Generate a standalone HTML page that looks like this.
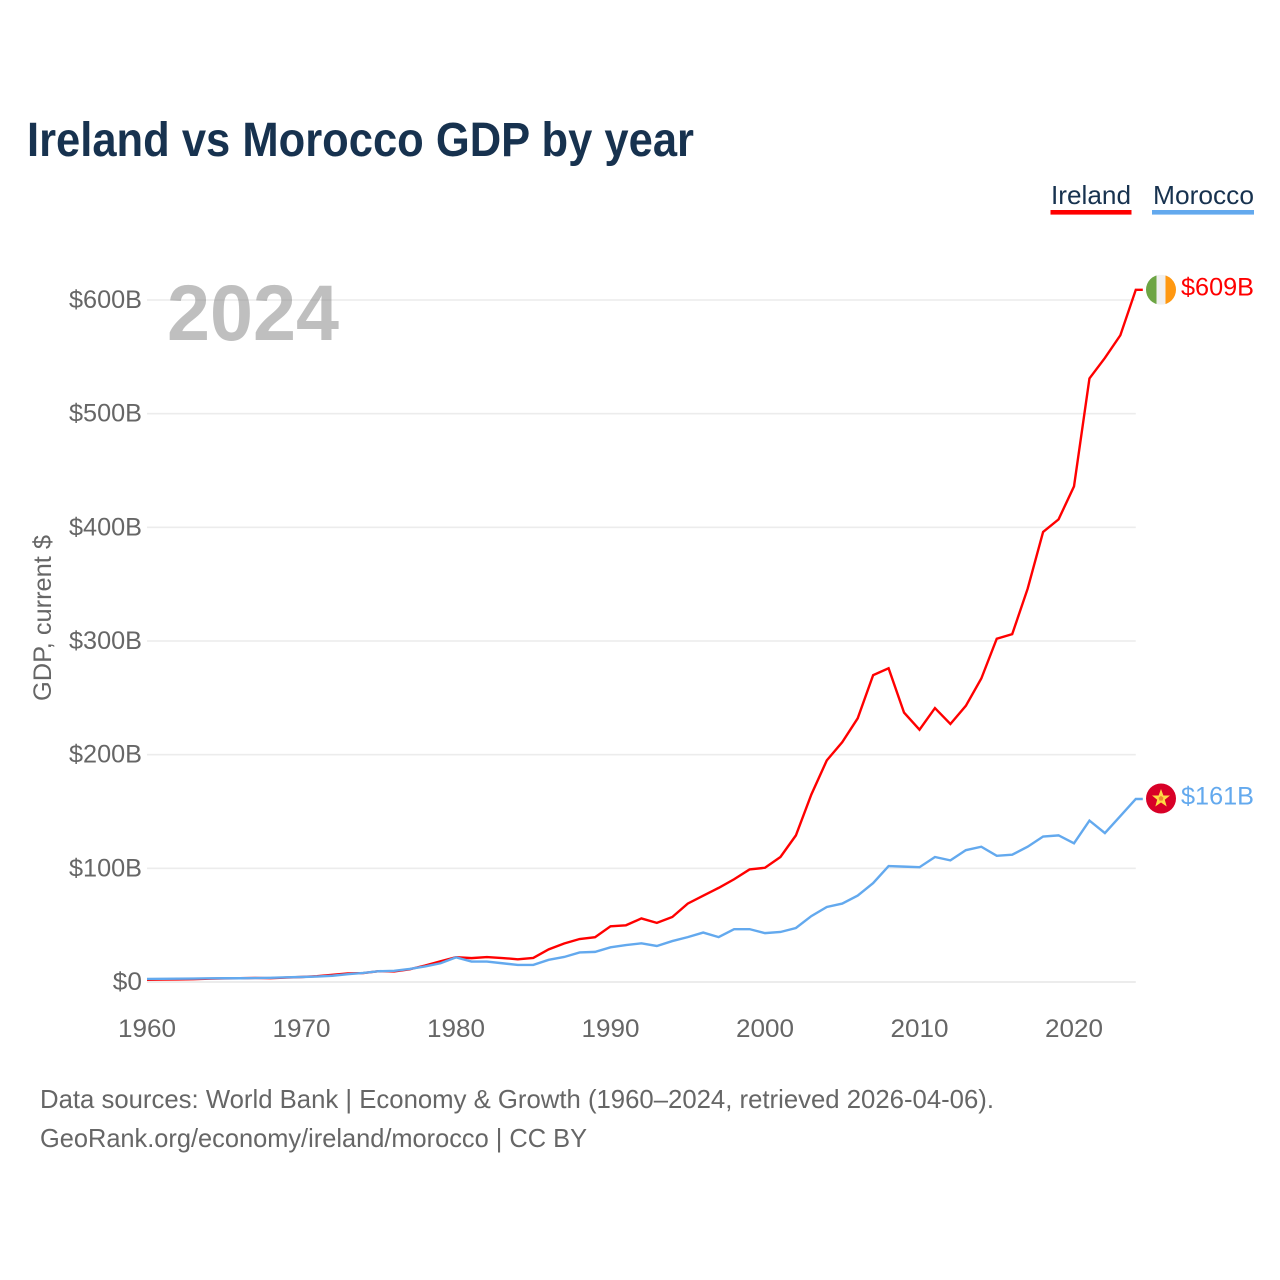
<!DOCTYPE html>
<html lang="en">
<head>
<meta charset="utf-8">
<title>Ireland vs Morocco GDP by year</title>
<style>
  html, body { margin: 0; padding: 0; background: #fff; }
  svg { display: block; }
  text { font-family: "Liberation Sans", sans-serif; }
</style>
</head>
<body>
<svg id="chart" xmlns="http://www.w3.org/2000/svg" width="1280" height="1280" viewBox="0 0 1280 1280">
  <defs>
    <clipPath id="flag-clip-ie"><circle cx="0" cy="0" r="15"></circle></clipPath>
  </defs>
  <rect x="0" y="0" width="1280" height="1280" fill="#ffffff"></rect>
  <text x="27" y="156" font-size="48" font-weight="700" fill="#17324f" textLength="667" lengthAdjust="spacingAndGlyphs">Ireland vs Morocco GDP by year</text>

  <g>
    <g>
      <text x="1051" y="204" font-size="26" fill="#17324f" textLength="80" lengthAdjust="spacingAndGlyphs">Ireland</text>
      <rect x="1050.5" y="210" width="81" height="4.6" fill="#ff0000"></rect>
    </g>
    <g>
      <text x="1153" y="204" font-size="26" fill="#17324f" textLength="101" lengthAdjust="spacingAndGlyphs">Morocco</text>
      <rect x="1152" y="210" width="102" height="4.6" fill="#63a9ee"></rect>
    </g>
  </g>

  <g id="grid"></g>
  <g id="y-ticks"></g>
  <g id="x-ticks"></g>

  <text x="167" y="340" font-size="79" font-weight="700" fill="#808080" fill-opacity="0.5" textLength="172" lengthAdjust="spacingAndGlyphs">2024</text>
  <text transform="translate(51 701) rotate(-90)" x="0" y="0" font-size="25" fill="#666666" textLength="166" lengthAdjust="spacingAndGlyphs">GDP, current $</text>

  <g id="series"></g>
  <g id="end-markers"></g>

  <text x="40" y="1108" font-size="26" fill="#666666" textLength="954" lengthAdjust="spacingAndGlyphs">Data sources: World Bank | Economy &amp; Growth (1960–2024, retrieved 2026-04-06).</text>
  <text x="40" y="1147" font-size="26" fill="#666666" textLength="547" lengthAdjust="spacingAndGlyphs">GeoRank.org/economy/ireland/morocco | CC BY</text>
</svg>

<script>
const years = [1960,1961,1962,1963,1964,1965,1966,1967,1968,1969,1970,1971,1972,1973,1974,1975,1976,1977,1978,1979,1980,1981,1982,1983,1984,1985,1986,1987,1988,1989,1990,1991,1992,1993,1994,1995,1996,1997,1998,1999,2000,2001,2002,2003,2004,2005,2006,2007,2008,2009,2010,2011,2012,2013,2014,2015,2016,2017,2018,2019,2020,2021,2022,2023,2024];
const irelandGdp = [1.9,2.1,2.3,2.5,2.9,3.1,3.3,3.6,3.4,3.9,4.4,5.1,6.3,7.5,7.9,9.5,9.3,11.2,14.5,18.2,21.8,21,21.9,21.1,20,21.2,28.7,33.9,37.8,39.4,49,49.9,55.9,52,57.2,69,75.9,82.8,90.4,99,100.5,110,129,165,195,211,232,270,276,237,222,241,227,243,267,302,306,346,396,407,436,531,549,569,609];
const moroccoGdp = [2.7,2.8,2.9,3,3.2,3.3,3.3,3.5,3.7,4.1,4.4,4.8,5.5,6.9,8,9.5,9.8,11.5,13.7,16.5,21.7,18,18,16.5,15,15,19.5,22,26,26.5,30.5,32.5,34,31.7,36,39.5,43.5,39.5,46.5,46.5,43,44,47.5,58,66,69,76,87,102,101.5,101,110,107,116,119,111,112,119,128,129,122,142,131,146,161];
const yTickValues = [0,100,200,300,400,500,600];
const yTickLabels = ["$0","$100B","$200B","$300B","$400B","$500B","$600B"];
const xTickYears = [1960,1970,1980,1990,2000,2010,2020];
const xTickLabels = ["1960","1970","1980","1990","2000","2010","2020"];

const NS = "http://www.w3.org/2000/svg";
function xScale(year) { return 147 + (year - 1960) * 15.45; }
function yScale(value) { return 982 - value * (982 - 300) / 600; }
function make(tag, attrs, parent) {
  const el = document.createElementNS(NS, tag);
  for (const k in attrs) el.setAttribute(k, attrs[k]);
  parent.appendChild(el);
  return el;
}

const gridG = document.getElementById('grid');
const yG = document.getElementById('y-ticks');
const xG = document.getElementById('x-ticks');
const seriesG = document.getElementById('series');
const endG = document.getElementById('end-markers');
const xEnd = xScale(years[years.length - 1]);

yTickValues.forEach(function (v, i) {
  const line = make('line', { x1: 147, x2: xEnd, y1: yScale(v), y2: yScale(v), stroke: '#ececec', 'stroke-width': v === 0 ? 2 : 1.6 }, gridG);
  
  
  const label = make('text', { x: 142, y: yScale(v) + 8, 'text-anchor': 'end', 'font-size': 25, fill: '#666666', textLength: yTickLabels[i].length * 14.6, lengthAdjust: 'spacingAndGlyphs' }, yG);
  
  
  label.textContent = yTickLabels[i];
});

xTickYears.forEach(function (yr, i) {
  const label = make('text', { x: xScale(yr), y: 1037, 'text-anchor': 'middle', 'font-size': 25, fill: '#666666', textLength: 58, lengthAdjust: 'spacingAndGlyphs' }, xG);
  
  
  label.textContent = xTickLabels[i];
});

function drawSeries(values, color, key) {
  const pts = values.map(function (v, i) { return xScale(years[i]).toFixed(2) + ',' + yScale(v).toFixed(2); });
  const lastY = yScale(values[values.length - 1]);
  pts.push((xEnd + 7).toFixed(2) + ',' + lastY.toFixed(2));
  const line = make('polyline', { points: pts.join(' '), fill: 'none', stroke: color, 'stroke-width': 2.4, 'stroke-linejoin': 'miter' }, seriesG);
  
  
}

function drawEndLabel(values, color, key) {
  const v = values[values.length - 1];
  const label = make('text', { x: 1181, y: yScale(v) + 5.5, 'font-size': 25, fill: color, textLength: 73, lengthAdjust: 'spacingAndGlyphs' }, endG);
  
  
  label.textContent = '$' + Math.round(v) + 'B';
}

drawSeries(irelandGdp, '#ff0000', 'ireland');
drawSeries(moroccoGdp, '#63a9ee', 'morocco');
drawEndLabel(irelandGdp, '#ff0000', 'ireland');
drawEndLabel(moroccoGdp, '#63a9ee', 'morocco');

const flagIe = make('g', { transform: 'translate(1161 ' + yScale(irelandGdp[irelandGdp.length - 1]) + ')', 'clip-path': 'url(#flag-clip-ie)' }, endG);


make('rect', { x: -15, y: -15, width: 10.5, height: 30, fill: '#6da544' }, flagIe);
make('rect', { x: -4.5, y: -15, width: 9, height: 30, fill: '#f0f0f0' }, flagIe);
make('rect', { x: 4.5, y: -15, width: 10.5, height: 30, fill: '#ff9811' }, flagIe);

const flagMa = make('g', { transform: 'translate(1161 ' + (yScale(moroccoGdp[moroccoGdp.length - 1]) - 0.5) + ')' }, endG);


make('circle', { cx: 0, cy: 0, r: 15, fill: '#d80027' }, flagMa);
make('polygon', { points: '0,-9.5 2.4,-3 9,-3 3.8,1.2 5.7,8 0,4 -5.7,8 -3.8,1.2 -9,-3 -2.4,-3', fill: '#ffda44' }, flagMa);
make('polygon', { points: '0,-2.6 2.5,-0.8 1.5,2.1 -1.5,2.1 -2.5,-0.8', fill: '#ee8a2e' }, flagMa);
</script>
</body>
</html>
